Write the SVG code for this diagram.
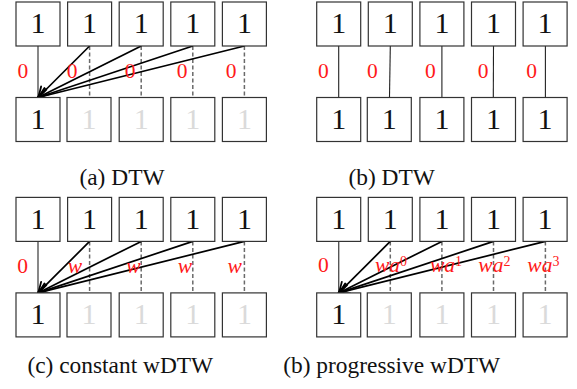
<svg xmlns="http://www.w3.org/2000/svg" width="577" height="389" viewBox="0 0 577 389">
<style>
.box{fill:#fff;stroke:#333;stroke-width:1.2}
.num{font-size:30px;text-anchor:middle;fill:#111}
.fade{fill:#dadada}
.lbl{font-size:21.5px;text-anchor:middle;fill:#ff1a1a}
.lbli{font-size:21.5px;font-style:italic;fill:#ff1a1a}
.sup{font-size:14px;font-style:normal}
.solidg{stroke:#555;stroke-width:1.4;fill:none}
.solidb{stroke:#222;stroke-width:1.1;fill:none}
.dash{stroke:#6a6a6a;stroke-width:1.5;stroke-dasharray:4 2.5;fill:none}
.arr{stroke:#000;stroke-width:1.7;fill:none;marker-end:url(#ah)}
.cap{font-size:23.4px;text-anchor:middle;fill:#111}
</style>
<defs>
<marker id="ah" markerUnits="userSpaceOnUse" markerWidth="18" markerHeight="18" refX="0" refY="0" viewBox="-13 -9 18 18" orient="auto" overflow="visible">
<path d="M -10 -5.6 Q -3.5 -1.6 0 0 Q -3.5 1.6 -10 5.6" fill="none" stroke="#000" stroke-width="1.8" stroke-linecap="round" stroke-linejoin="round"/>
</marker>
</defs>
<g font-family="Liberation Serif, Times New Roman, serif">
<!-- Panel (a) -->
<g id="panel-a">
<g id="connectors-a">
<line class="solidg" x1="38" y1="46" x2="38" y2="97.5"/>
<line class="dash" x1="89.6" y1="46" x2="89.6" y2="97.5"/>
<line class="dash" x1="141.2" y1="46" x2="141.2" y2="97.5"/>
<line class="dash" x1="192.8" y1="46" x2="192.8" y2="97.5"/>
<line class="dash" x1="244.4" y1="46" x2="244.4" y2="97.5"/>
<line class="arr" x1="89.6" y1="46" x2="38" y2="97.5"/>
<line class="arr" x1="141.2" y1="46" x2="38" y2="97.5"/>
<line class="arr" x1="192.8" y1="46" x2="38" y2="97.5"/>
<line class="arr" x1="244.4" y1="46" x2="38" y2="97.5"/>
<text class="lbl" x="22.8" y="78.3">0</text>
<text class="lbl" x="72" y="78.3">0</text>
<text class="lbl" x="130" y="78.3">0</text>
<text class="lbl" x="182" y="78.3">0</text>
<text class="lbl" x="231" y="78.3">0</text>
</g>
<g id="a-t1"><rect class="box" x="16" y="2" width="44" height="44"/><text class="num" x="38" y="33.3">1</text></g>
<g id="a-t2"><rect class="box" x="67.6" y="2" width="44" height="44"/><text class="num" x="89.6" y="33.3">1</text></g>
<g id="a-t3"><rect class="box" x="119.2" y="2" width="44" height="44"/><text class="num" x="141.2" y="33.3">1</text></g>
<g id="a-t4"><rect class="box" x="170.8" y="2" width="44" height="44"/><text class="num" x="192.8" y="33.3">1</text></g>
<g id="a-t5"><rect class="box" x="222.4" y="2" width="44" height="44"/><text class="num" x="244.4" y="33.3">1</text></g>
<g id="a-b1"><rect class="box" x="16" y="97.5" width="44" height="44"/><text class="num" x="38" y="128.6">1</text></g>
<g id="a-b2"><rect class="box" x="67" y="97.5" width="44" height="44"/><text class="num fade" x="89" y="128.6">1</text></g>
<g id="a-b3"><rect class="box" x="119.2" y="97.5" width="44" height="44"/><text class="num fade" x="141.2" y="128.6">1</text></g>
<g id="a-b4"><rect class="box" x="170.8" y="97.5" width="44" height="44"/><text class="num fade" x="192.8" y="128.6">1</text></g>
<g id="a-b5"><rect class="box" x="222.4" y="97.5" width="44" height="44"/><text class="num fade" x="244.4" y="128.6">1</text></g>
<g id="cap-a"><text class="cap" x="122" y="185">(a) DTW</text></g>
</g>

<!-- Panel (b) -->
<g id="panel-b">
<g id="connectors-b">
<line class="solidb" x1="338.7" y1="46" x2="338.7" y2="97.5"/>
<line class="solidb" x1="390.3" y1="46" x2="389.5" y2="97.5"/>
<line class="solidb" x1="441.9" y1="46" x2="441.9" y2="97.5"/>
<line class="solidb" x1="493.5" y1="46" x2="493.3" y2="97.5"/>
<line class="solidb" x1="545.4" y1="46" x2="545.4" y2="97.5"/>
<text class="lbl" x="323.3" y="77.8">0</text>
<text class="lbl" x="372.4" y="77.8">0</text>
<text class="lbl" x="430.3" y="77.8">0</text>
<text class="lbl" x="483" y="77.8">0</text>
<text class="lbl" x="531.7" y="77.8">0</text>
</g>
<g id="b-t1"><rect class="box" x="316.7" y="2" width="44" height="44"/><text class="num" x="338.7" y="33.3">1</text></g>
<g id="b-t2"><rect class="box" x="368.3" y="2" width="44" height="44"/><text class="num" x="390.3" y="33.3">1</text></g>
<g id="b-t3"><rect class="box" x="419.9" y="2" width="44" height="44"/><text class="num" x="441.9" y="33.3">1</text></g>
<g id="b-t4"><rect class="box" x="471.5" y="2" width="44" height="44"/><text class="num" x="493.5" y="33.3">1</text></g>
<g id="b-t5"><rect class="box" x="523.1" y="2" width="44" height="44"/><text class="num" x="545.1" y="33.3">1</text></g>
<g id="b-b1"><rect class="box" x="316.7" y="97.5" width="44" height="44"/><text class="num" x="338.7" y="128.6">1</text></g>
<g id="b-b2"><rect class="box" x="367.3" y="97.5" width="44" height="44"/><text class="num" x="389.3" y="128.6">1</text></g>
<g id="b-b3"><rect class="box" x="419.9" y="97.5" width="44" height="44"/><text class="num" x="441.9" y="128.6">1</text></g>
<g id="b-b4"><rect class="box" x="471.5" y="97.5" width="44" height="44"/><text class="num" x="493.5" y="128.6">1</text></g>
<g id="b-b5"><rect class="box" x="523.1" y="97.5" width="44" height="44"/><text class="num" x="545.1" y="128.6">1</text></g>
<g id="cap-b"><text class="cap" x="391.7" y="185">(b) DTW</text></g>
</g>

<!-- Panel (c) -->
<g id="panel-c" transform="translate(0,195.4)">
<g id="connectors-c">
<line class="solidg" x1="38" y1="46" x2="38" y2="97.5"/>
<line class="dash" x1="89.6" y1="46" x2="89.6" y2="97.5"/>
<line class="dash" x1="141.2" y1="46" x2="141.2" y2="97.5"/>
<line class="dash" x1="192.8" y1="46" x2="192.8" y2="97.5"/>
<line class="dash" x1="244.4" y1="46" x2="244.4" y2="97.5"/>
<line class="arr" x1="89.6" y1="46" x2="38" y2="97.5"/>
<line class="arr" x1="141.2" y1="46" x2="38" y2="97.5"/>
<line class="arr" x1="192.8" y1="46" x2="38" y2="97.5"/>
<line class="arr" x1="244.4" y1="46" x2="38" y2="97.5"/>
<text class="lbl" x="22.7" y="77.9">0</text>
<text class="lbli" x="75" y="77.5" text-anchor="middle">w</text>
<text class="lbli" x="133.3" y="77.5" text-anchor="middle">w</text>
<text class="lbli" x="185" y="77.5" text-anchor="middle">w</text>
<text class="lbli" x="234.7" y="77.5" text-anchor="middle">w</text>
</g>
<g id="c-t1"><rect class="box" x="16" y="2" width="44" height="44"/><text class="num" x="38" y="33.3">1</text></g>
<g id="c-t2"><rect class="box" x="67.6" y="2" width="44" height="44"/><text class="num" x="89.6" y="33.3">1</text></g>
<g id="c-t3"><rect class="box" x="119.2" y="2" width="44" height="44"/><text class="num" x="141.2" y="33.3">1</text></g>
<g id="c-t4"><rect class="box" x="170.8" y="2" width="44" height="44"/><text class="num" x="192.8" y="33.3">1</text></g>
<g id="c-t5"><rect class="box" x="222.4" y="2" width="44" height="44"/><text class="num" x="244.4" y="33.3">1</text></g>
<g id="c-b1"><rect class="box" x="16" y="97.5" width="44" height="44"/><text class="num" x="38" y="128.6">1</text></g>
<g id="c-b2"><rect class="box" x="67" y="97.5" width="44" height="44"/><text class="num fade" x="89" y="128.6">1</text></g>
<g id="c-b3"><rect class="box" x="119.2" y="97.5" width="44" height="44"/><text class="num fade" x="141.2" y="128.6">1</text></g>
<g id="c-b4"><rect class="box" x="170.8" y="97.5" width="44" height="44"/><text class="num fade" x="192.8" y="128.6">1</text></g>
<g id="c-b5"><rect class="box" x="222.4" y="97.5" width="44" height="44"/><text class="num fade" x="244.4" y="128.6">1</text></g>
</g>
<g id="cap-c"><text class="cap" x="120.3" y="373.3">(c) constant wDTW</text></g>

<!-- Panel (d) -->
<g id="panel-d" transform="translate(0,195.4)">
<g id="connectors-d">
<line class="solidg" x1="338.7" y1="46" x2="338.7" y2="97.5"/>
<line class="dash" x1="390.3" y1="46" x2="390.3" y2="97.5"/>
<line class="dash" x1="441.9" y1="46" x2="441.9" y2="97.5"/>
<line class="dash" x1="493.5" y1="46" x2="493.5" y2="97.5"/>
<line class="dash" x1="545.4" y1="46" x2="545.4" y2="97.5"/>
<line class="arr" x1="390.3" y1="46" x2="338.7" y2="97.5"/>
<line class="arr" x1="441.9" y1="46" x2="338.7" y2="97.5"/>
<line class="arr" x1="493.5" y1="46" x2="338.7" y2="97.5"/>
<line class="arr" x1="545.4" y1="46" x2="338.7" y2="97.5"/>
<text class="lbl" x="323.3" y="77">0</text>
<text class="lbli" x="375" y="76.6">wa<tspan class="sup" dy="-6">0</tspan></text>
<text class="lbli" x="430" y="76.6">wa<tspan class="sup" dy="-6">1</tspan></text>
<text class="lbli" x="478.3" y="76.6">wa<tspan class="sup" dy="-6">2</tspan></text>
<text class="lbli" x="527.3" y="76.6">wa<tspan class="sup" dy="-6">3</tspan></text>
</g>
<g id="d-t1"><rect class="box" x="316.7" y="2" width="44" height="44"/><text class="num" x="338.7" y="33.3">1</text></g>
<g id="d-t2"><rect class="box" x="368.3" y="2" width="44" height="44"/><text class="num" x="390.3" y="33.3">1</text></g>
<g id="d-t3"><rect class="box" x="419.9" y="2" width="44" height="44"/><text class="num" x="441.9" y="33.3">1</text></g>
<g id="d-t4"><rect class="box" x="471.5" y="2" width="44" height="44"/><text class="num" x="493.5" y="33.3">1</text></g>
<g id="d-t5"><rect class="box" x="523.1" y="2" width="44" height="44"/><text class="num" x="545.1" y="33.3">1</text></g>
<g id="d-b1"><rect class="box" x="316.7" y="97.5" width="44" height="44"/><text class="num" x="338.7" y="128.6">1</text></g>
<g id="d-b2"><rect class="box" x="367.3" y="97.5" width="44" height="44"/><text class="num fade" x="389.3" y="128.6">1</text></g>
<g id="d-b3"><rect class="box" x="419.9" y="97.5" width="44" height="44"/><text class="num fade" x="441.9" y="128.6">1</text></g>
<g id="d-b4"><rect class="box" x="471.5" y="97.5" width="44" height="44"/><text class="num fade" x="493.5" y="128.6">1</text></g>
<g id="d-b5"><rect class="box" x="523.1" y="97.5" width="44" height="44"/><text class="num fade" x="545.1" y="128.6">1</text></g>
</g>
<g id="cap-d"><text class="cap" x="391.7" y="373.3">(b) progressive wDTW</text></g>
</g>
</svg>
